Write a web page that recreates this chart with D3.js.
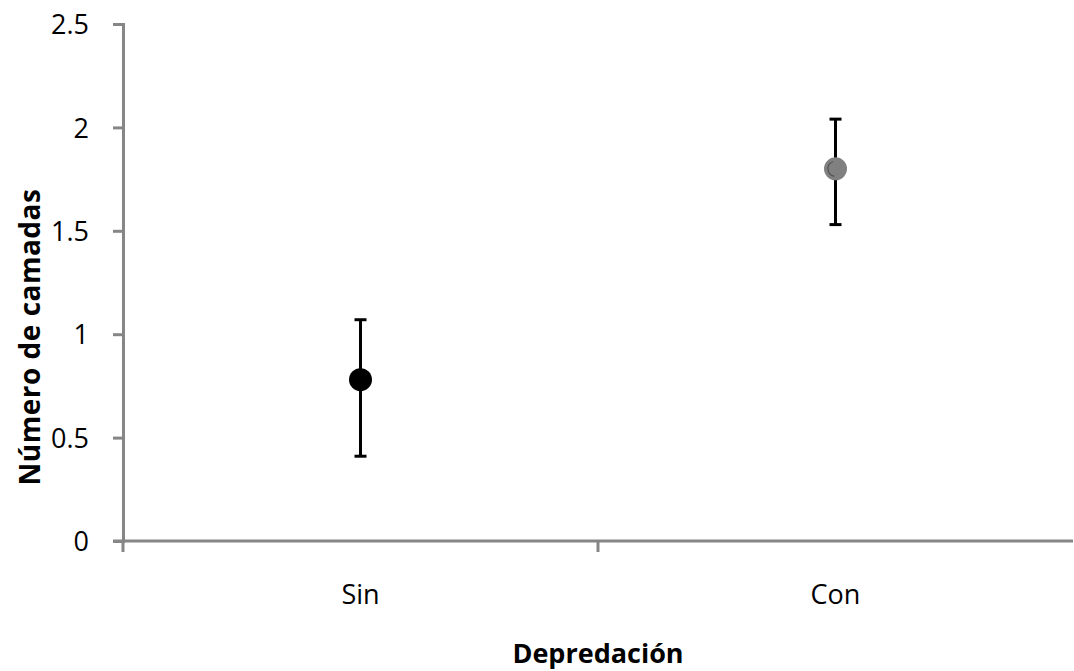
<!DOCTYPE html>
<html>
<head>
<meta charset="utf-8">
<script src="https://cdn.jsdelivr.net/npm/d3@7"></script>
<style>
  body { margin: 0; background: #fff; }
  text { font-family: "Open Sans", "Liberation Sans", sans-serif; }
</style>
</head>
<body>
<div id="vis-container"></div>
<script>
// data
let groups = ["Sin", "Con"];
let means = [0.78, 1.80];
let upper = [1.07, 2.04];
let lower = [0.41, 1.53];
let fills = ["#000000", "#808080"];
let yTicks = [0, 0.5, 1, 1.5, 2, 2.5];

let w = 1074;
let h = 671;
let m = {left: 123, right: 1, top: 24, bottom: 130};

let svg = d3.select("#vis-container")
  .append("svg")
  .attr("width", w)
  .attr("height", h);

let x = d3.scaleBand()
  .domain(groups)
  .range([m.left, w - m.right]);

let y = d3.scaleLinear()
  .domain([0, 2.5])
  .range([h - m.bottom, m.top]);

let axisCol = "#868686";

// y axis
let yAxis = svg.append("g")
  .attr("transform", `translate(${m.left},0)`)
  .call(d3.axisLeft(y).tickValues(yTicks).tickSize(10).tickPadding(24)
    .tickFormat(d => d));
yAxis.select(".domain").attr("stroke", axisCol).attr("stroke-width", 3);
yAxis.selectAll(".tick line").attr("stroke", axisCol).attr("stroke-width", 3);
yAxis.selectAll(".tick text")
  .attr("fill", "#000").attr("font-size", 27).attr("dy", "0.36em");

// x axis, ticks at band edges
let xAxis = svg.append("g")
  .attr("transform", `translate(0,${y(0)})`);
xAxis.append("line")
  .attr("x1", m.left - 10).attr("x2", w - m.right)
  .attr("stroke", axisCol).attr("stroke-width", 3);
xAxis.selectAll(".xt")
  .data(groups)
  .enter().append("line")
  .attr("x1", d => x(d)).attr("x2", d => x(d))
  .attr("y1", 0).attr("y2", 11)
  .attr("stroke", axisCol).attr("stroke-width", 3);
xAxis.selectAll(".xl")
  .data(groups)
  .enter().append("text")
  .attr("x", d => x(d) + x.bandwidth() / 2)
  .attr("y", 63)
  .attr("text-anchor", "middle")
  .attr("font-size", 27)
  .text(d => d);

// error bars
let cx = i => x(groups[i]) + x.bandwidth() / 2;
let idx = d3.range(groups.length);

svg.selectAll(".err")
  .data(idx)
  .enter().append("line")
  .attr("x1", cx).attr("x2", cx)
  .attr("y1", i => y(upper[i])).attr("y2", i => y(lower[i]))
  .attr("stroke", "#000").attr("stroke-width", 3);

svg.selectAll(".cap")
  .data(idx.concat(idx))
  .enter().append("line")
  .attr("x1", i => cx(i) - 6).attr("x2", i => cx(i) + 6)
  .attr("y1", (i, k) => k < 2 ? y(upper[i]) : y(lower[i]))
  .attr("y2", (i, k) => k < 2 ? y(upper[i]) : y(lower[i]))
  .attr("stroke", "#000").attr("stroke-width", 3);

svg.selectAll(".pt")
  .data(idx)
  .enter().append("circle")
  .attr("cx", cx)
  .attr("cy", i => y(means[i]))
  .attr("r", 11.5)
  .attr("fill", i => fills[i]);

// little shading arc on grey marker
svg.append("path")
  .attr("transform", `translate(${cx(1)},${y(means[1])})`)
  .attr("d", d3.arc()({innerRadius: 7, outerRadius: 8, startAngle: -Math.PI * 0.95, endAngle: -Math.PI * 0.1}))
  .attr("fill", "#4a4a4a");

// titles
svg.append("text")
  .attr("x", (m.left + w - m.right) / 2)
  .attr("y", 663)
  .attr("text-anchor", "middle")
  .attr("font-size", 27)
  .attr("font-weight", "bold")
  .text("Depredación");

svg.append("text")
  .attr("transform", `translate(40,${337}) rotate(-90)`)
  .attr("text-anchor", "middle")
  .attr("font-size", 28)
  .attr("letter-spacing", 0.5)
  .attr("font-weight", "bold")
  .text("Número de camadas");
</script>
</body>
</html>
